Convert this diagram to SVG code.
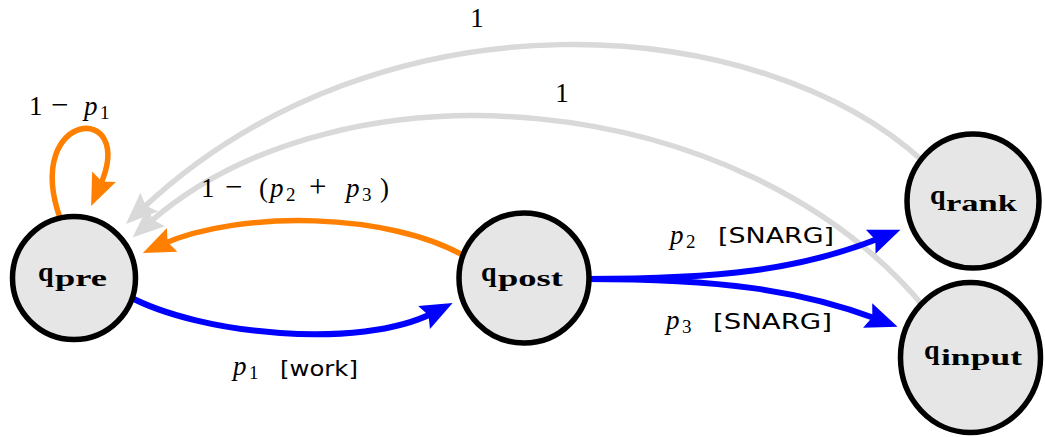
<svg xmlns="http://www.w3.org/2000/svg" width="1045" height="437" viewBox="0 0 1045 437">
<style>
.edge{fill:none;stroke-width:5.5;stroke-linecap:butt}
.gray{stroke:#d9d9d9}
.orange{stroke:#ff8000}
.blue{stroke:#0000ff;stroke-width:6}
.node{fill:#e6e6e6;stroke:#000;stroke-width:5.5}
.nq{font-family:"Liberation Serif",serif;font-weight:bold;font-size:28px;fill:#000}
.ns{font-family:"Liberation Serif",serif;font-weight:bold;font-size:23px;fill:#000}
.m{font-family:"Liberation Serif",serif;font-size:27px;fill:#000}
.mi{font-style:italic}
.sub{font-size:19px}
.op{font-size:31px}
.sf{font-family:"DejaVu Sans","Liberation Sans",sans-serif;font-size:22px;fill:#000}
</style>
<defs>
<marker id="ag" markerUnits="userSpaceOnUse" markerWidth="32" markerHeight="26" refX="10" refY="13" orient="auto" overflow="visible"><path d="M0,0 L32,13 L0,26 L5,13 z" fill="#d9d9d9"/></marker>
<marker id="ao" markerUnits="userSpaceOnUse" markerWidth="32" markerHeight="26" refX="10" refY="13" orient="auto" overflow="visible"><path d="M0,0 L32,13 L0,26 L5,13 z" fill="#ff8000"/></marker>
<marker id="ab" markerUnits="userSpaceOnUse" markerWidth="32" markerHeight="26" refX="10" refY="13" orient="auto" overflow="visible"><path d="M0,0 L32,13 L0,26 L5,13 z" fill="#0000ff"/></marker>
</defs>
<g id="connectors">
<path class="edge gray" d="M 925 163 C 760 10, 380 -15, 142 209" marker-end="url(#ag)"/>
<path class="edge gray" d="M 925 308 C 740 85, 340 55, 149 223" marker-end="url(#ag)"/>
<path class="edge orange" d="M 60 218 C 22 110, 138 100, 100 186" marker-end="url(#ao)"/>
<path class="edge orange" d="M 466 257 C 390 212, 240 210, 163 244" marker-end="url(#ao)"/>
<path class="edge blue" d="M 128 296 C 200 335, 360 350, 433 313" marker-end="url(#ab)"/>
<path class="edge blue" d="M 585 279 C 720 279, 800 270, 880 238" marker-end="url(#ab)"/>
<path class="edge blue" d="M 585 279 C 720 279, 800 290, 877 319" marker-end="url(#ab)"/>
<text class="m" x="477" y="27" text-anchor="middle">1</text>
<text class="m" x="562" y="102" text-anchor="middle">1</text>
<text class="m" y="115"><tspan x="29">1</tspan><tspan x="51" class="op">−</tspan><tspan x="84" class="mi">p</tspan><tspan x="100" dy="4" class="sub">1</tspan></text>
<text class="m" y="197"><tspan x="201">1</tspan><tspan x="225" class="op">−</tspan><tspan x="259">(</tspan><tspan x="270" class="mi">p</tspan><tspan x="286" dy="4" class="sub">2</tspan><tspan x="309" dy="-4" class="op">+</tspan><tspan x="346" class="mi">p</tspan><tspan x="362" dy="4" class="sub">3</tspan><tspan x="380" dy="-4">)</tspan></text>
<text class="m" y="375"><tspan x="233" class="mi">p</tspan><tspan x="249" dy="4" class="sub">1</tspan></text>
<text class="sf" x="280" y="376" textLength="78" lengthAdjust="spacingAndGlyphs">[work]</text>
<text class="m" y="244"><tspan x="670" class="mi">p</tspan><tspan x="686" dy="4" class="sub">2</tspan></text>
<text class="sf" x="718" y="243" textLength="116" lengthAdjust="spacingAndGlyphs">[SNARG]</text>
<text class="m" y="329"><tspan x="666" class="mi">p</tspan><tspan x="682" dy="4" class="sub">3</tspan></text>
<text class="sf" x="713" y="329" textLength="119" lengthAdjust="spacingAndGlyphs">[SNARG]</text>
</g>
<g id="q_pre">
<circle class="node" cx="74" cy="278" r="61.5"/>
<text class="nq" x="38" y="281">q</text>
<text class="ns" x="55" y="286" textLength="52" lengthAdjust="spacingAndGlyphs">pre</text>
</g>
<g id="q_post">
<circle class="node" cx="524" cy="278" r="65"/>
<text class="nq" x="481" y="281">q</text>
<text class="ns" x="498" y="286" textLength="65" lengthAdjust="spacingAndGlyphs">post</text>
</g>
<g id="q_rank">
<ellipse class="node" cx="973" cy="201" rx="66" ry="67"/>
<text class="nq" x="930" y="204">q</text>
<text class="ns" x="946" y="211" textLength="71" lengthAdjust="spacingAndGlyphs">rank</text>
</g>
<g id="q_input">
<ellipse class="node" cx="970.5" cy="357.5" rx="70" ry="75"/>
<text class="nq" x="924" y="359">q</text>
<text class="ns" x="941" y="365" textLength="81" lengthAdjust="spacingAndGlyphs">input</text>
</g>
</svg>
